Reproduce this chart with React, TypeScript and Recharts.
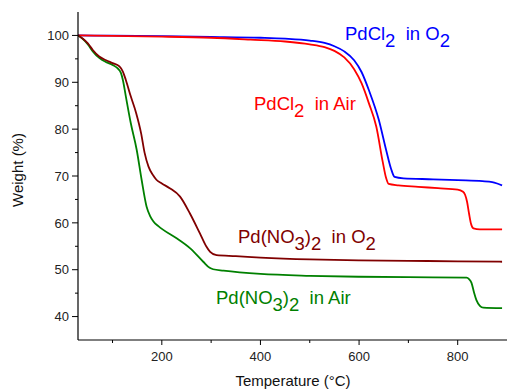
import React from 'react';
import { LineChart, Line, XAxis, YAxis } from 'recharts';

// PdCl2 in O2
const chlorideO2Temp = [30, 100, 200, 300, 400, 450, 500, 530, 550, 570, 590, 605, 620, 640, 655, 665, 672, 690, 750, 800, 850, 870, 880, 890];
const chlorideO2Weight = [100, 99.95, 99.85, 99.7, 99.5, 99.3, 98.9, 98.4, 97.7, 96.6, 94.7, 92.2, 88.3, 82, 75.5, 71.5, 69.8, 69.5, 69.3, 69.1, 68.9, 68.7, 68.4, 68.0];

// PdCl2 in Air
const chlorideAirTemp = [30, 100, 200, 300, 380, 450, 500, 530, 550, 570, 590, 605, 620, 635, 648, 655, 660, 680, 720, 760, 800, 810, 815, 819, 823, 827, 832, 845, 890];
const chlorideAirWeight = [100, 99.9, 99.75, 99.5, 99.1, 98.7, 98.1, 97.5, 96.7, 95.3, 92.8, 89.8, 85.5, 80.5, 73, 69.5, 68.3, 68.0, 67.7, 67.4, 67.1, 66.7, 66.0, 64.5, 62, 59.8, 58.8, 58.6, 58.6];

// Pd(NO3)2 in O2
const nitrateO2Temp = [30, 40, 50, 60, 73, 87, 100, 114, 121, 127, 137, 148, 158, 165, 173, 182, 189, 200, 216, 237, 257, 277, 290, 298, 311, 350, 400, 500, 600, 700, 800, 890];
const nitrateO2Weight = [100, 99.3, 98.3, 96.9, 95.5, 94.7, 94.1, 93.4, 92.3, 90.5, 87, 83.4, 79.1, 75, 72, 70.2, 69.2, 68.4, 67.4, 65.6, 62, 57.8, 55, 53.8, 53.1, 52.9, 52.6, 52.2, 52.0, 51.9, 51.8, 51.7];

// Pd(NO3)2 in Air
const nitrateAirTemp = [30, 40, 50, 60, 73, 87, 100, 110, 117, 121, 127, 137, 149, 159, 169, 176, 183, 193, 203, 230, 257, 284, 297, 304, 325, 400, 500, 600, 700, 818, 823, 828, 833, 838, 845, 852, 890];
const nitrateAirWeight = [100, 99.2, 98.1, 96.6, 95.2, 94.3, 93.7, 93.0, 92.0, 90.5, 87, 81.3, 75.6, 69.2, 63.5, 61.5, 60.3, 59.3, 58.5, 56.7, 54.6, 51.7, 50.4, 50.1, 49.8, 49.1, 48.7, 48.5, 48.4, 48.3, 48.0, 47.2, 45.2, 43.5, 42.3, 41.9, 41.8];

const xTicks = [100, 200, 300, 400, 500, 600, 700, 800];
const yTicks = [40, 45, 50, 55, 60, 65, 70, 75, 80, 85, 90, 95, 100];

const toPoints = (temps: number[], weights: number[]) =>
  temps.map((t, i) => ({ t, w: weights[i] }));

const FONT = '"Liberation Sans", Arial, sans-serif';

const LeftTick = (props: any) => {
  const { x, y, payload } = props;
  const major = payload.value % 10 === 0;
  return (
    <g>
      <line x1={x - (major ? 6 : 3)} x2={x} y1={y} y2={y} stroke="#000" strokeWidth={1} />
      {major && (
        <text x={x - 9} y={y} dy="0.36em" textAnchor="end" fontSize={13} fontFamily={FONT} fill="#222">
          {payload.value}
        </text>
      )}
    </g>
  );
};

const BottomTick = (props: any) => {
  const { x, y, payload } = props;
  const major = payload.value % 200 === 0;
  return (
    <g>
      <line x1={x} x2={x} y1={y} y2={y + (major ? 5 : 3)} stroke="#000" strokeWidth={1} />
      {major && (
        <text x={x} y={y + 21} textAnchor="middle" fontSize={13} fontFamily={FONT} fill="#222">
          {payload.value}
        </text>
      )}
    </g>
  );
};

const TopTick = (props: any) => {
  const { x, y } = props;
  return <line x1={x} x2={x} y1={y} y2={y + 3} stroke="#000" strokeWidth={1} />;
};

const SUB = 7;

export default function App() {
  return (
    <div style={{ position: 'absolute', left: 0, top: 0, width: 507, height: 391, background: '#fff' }}>
      <LineChart width={507} height={391} margin={{ top: 12, right: 0, bottom: 0, left: 0 }}>
        <XAxis
          xAxisId="bottom"
          type="number"
          dataKey="t"
          domain={[30, 900]}
          allowDataOverflow
          ticks={xTicks}
          interval={0}
          height={51}
          tickSize={0}
          tickMargin={0}
          tickLine={false}
          tick={<BottomTick />}
          axisLine={{ stroke: '#000', strokeWidth: 1.2 }}
        />
        <XAxis
          xAxisId="top"
          orientation="top"
          type="number"
          dataKey="t"
          domain={[30, 900]}
          allowDataOverflow
          ticks={xTicks}
          interval={0}
          height={0}
          tickSize={0}
          tickMargin={0}
          tickLine={false}
          tick={<TopTick />}
          axisLine={{ stroke: '#000', strokeWidth: 1.2 }}
        />
        <YAxis
          yAxisId="left"
          type="number"
          domain={[35, 105]}
          allowDataOverflow
          ticks={yTicks}
          interval={0}
          width={78}
          tickSize={0}
          tickMargin={0}
          tickLine={false}
          tick={<LeftTick />}
          axisLine={{ stroke: '#000', strokeWidth: 1.2 }}
        />
        <Line xAxisId="bottom" yAxisId="left" data={toPoints(chlorideO2Temp, chlorideO2Weight)} dataKey="w" type="monotone" stroke="#0000ff" strokeWidth={1.8} dot={false} isAnimationActive={false} />
        <Line xAxisId="bottom" yAxisId="left" data={toPoints(chlorideAirTemp, chlorideAirWeight)} dataKey="w" type="monotone" stroke="#ff0000" strokeWidth={1.8} dot={false} isAnimationActive={false} />
        <Line xAxisId="bottom" yAxisId="left" data={toPoints(nitrateAirTemp, nitrateAirWeight)} dataKey="w" type="monotone" stroke="#008000" strokeWidth={1.8} dot={false} isAnimationActive={false} />
        <Line xAxisId="bottom" yAxisId="left" data={toPoints(nitrateO2Temp, nitrateO2Weight)} dataKey="w" type="monotone" stroke="#800000" strokeWidth={1.8} dot={false} isAnimationActive={false} />
      </LineChart>

      {/* axis titles and series labels */}
      <svg width={507} height={391} style={{ position: 'absolute', left: 0, top: 0, pointerEvents: 'none' }} fontFamily={FONT}>
        <text x={293} y={386} textAnchor="middle" fontSize={15} fill="#111">Temperature (°C)</text>
        <text transform="translate(23,170) rotate(-90)" textAnchor="middle" fontSize={15} fill="#111">Weight (%)</text>

        <text x={345} y={40} fontSize={18.5} fill="#0000ff">
          PdCl<tspan dy={SUB}>2</tspan><tspan dy={-SUB}>{'\u00a0\u00a0'}in O</tspan><tspan dy={SUB}>2</tspan>
        </text>
        <text x={254} y={110} fontSize={18.5} fill="#ff0000">
          PdCl<tspan dy={SUB}>2</tspan><tspan dy={-SUB}>{'\u00a0\u00a0'}in Air</tspan>
        </text>
        <text x={238} y={243} fontSize={18.5} fill="#800000">
          Pd(NO<tspan dy={SUB}>3</tspan><tspan dy={-SUB}>)</tspan><tspan dy={SUB}>2</tspan><tspan dy={-SUB}>{'\u00a0\u00a0'}in O</tspan><tspan dy={SUB}>2</tspan>
        </text>
        <text x={216} y={304} fontSize={18.5} fill="#008000">
          Pd(NO<tspan dy={SUB}>3</tspan><tspan dy={-SUB}>)</tspan><tspan dy={SUB}>2</tspan><tspan dy={-SUB}>{'\u00a0\u00a0'}in Air</tspan>
        </text>
      </svg>
    </div>
  );
}
